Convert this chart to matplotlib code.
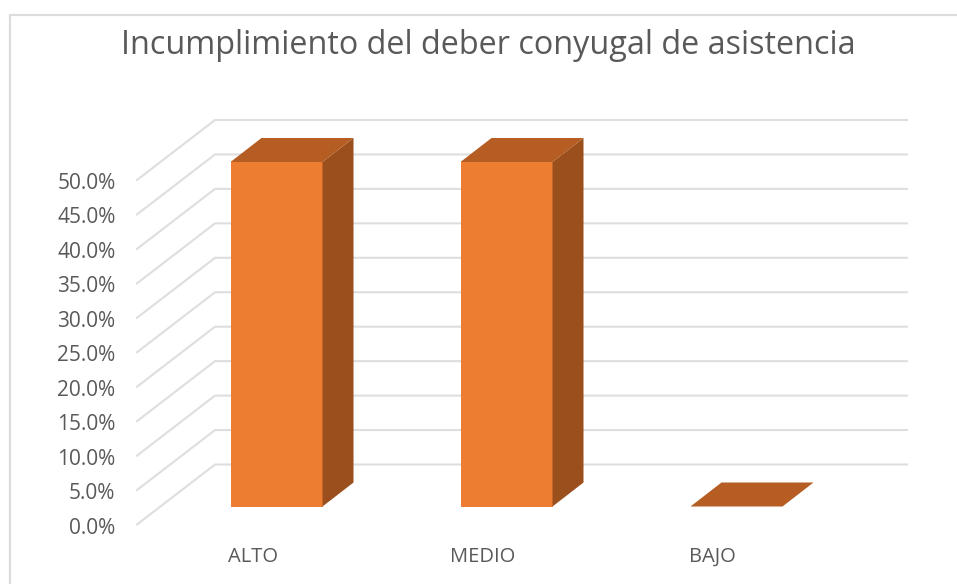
import matplotlib
matplotlib.use('Agg')
import matplotlib.pyplot as plt
from matplotlib.patches import Polygon

plt.rcParams['font.family'] = ['Open Sans', 'DejaVu Sans']

title = 'Incumplimiento del deber conyugal de asistencia'
categories = ['ALTO', 'MEDIO', 'BAJO']
values = [50.0, 50.0, 0.0]
ticks = [0, 5, 10, 15, 20, 25, 30, 35, 40, 45, 50]

# pixel layout of the fake 3d box
PX_PER_UNIT = 6.89
FLOOR_FRONT = 524.5
WALL_X0, WALL_X1, FRONT_X = 215, 907, 137
WALL_DY = 60
BAR_BASE = 506.5
BAR_X = [230.5, 460.5, 690.5]
BAR_W = 92
DEPTH_X, DEPTH_Y = 31, 24
TEXT = '#595959'
GRID = '#dedede'


def val_y(v, base):
    return base - v * PX_PER_UNIT


fig = plt.figure(figsize=(9.57, 5.84), dpi=100)
ax = fig.add_axes([0, 0, 1, 1])
ax.set_xlim(0, 957)
ax.set_ylim(584, 0)
ax.axis('off')

# chart border, runs off the right and bottom of the crop
ax.plot([9.5, 9.5, 957], [584, 15, 15], color='#dcdcdc', lw=1.6)

ax.text(488.5, 45.5, title, ha='center', va='center', fontsize=23.35, color=TEXT)

for t in ticks:
    y = val_y(t, FLOOR_FRONT)
    ax.plot([FRONT_X, WALL_X0, WALL_X1], [y, y - WALL_DY, y - WALL_DY], color=GRID, lw=1.5, zorder=1)
    ax.text(115.5, y + 3.5, '%.1f%%' % t, ha='right', va='center', fontsize=15, color=TEXT)

for x, v, name in zip(BAR_X, values, categories):
    top = val_y(v, BAR_BASE)
    if v > 0:
        ax.add_patch(Polygon([(x, top), (x + BAR_W, top), (x + BAR_W, BAR_BASE), (x, BAR_BASE)],
                             facecolor='#ed7d31', edgecolor='none', zorder=3))
        ax.add_patch(Polygon([(x + BAR_W, top), (x + BAR_W + DEPTH_X, top - DEPTH_Y),
                              (x + BAR_W + DEPTH_X, BAR_BASE - DEPTH_Y), (x + BAR_W, BAR_BASE)],
                             facecolor='#9a4f1c', edgecolor='none', zorder=3))
    ax.add_patch(Polygon([(x, top), (x + DEPTH_X, top - DEPTH_Y), (x + BAR_W + DEPTH_X, top - DEPTH_Y),
                          (x + BAR_W, top)], facecolor='#b55d22', edgecolor='none', zorder=3))
    ax.text(x + 22, 556.5, name, ha='center', va='center', fontsize=14.5, color=TEXT)

fig.savefig('out.png', dpi=100)
